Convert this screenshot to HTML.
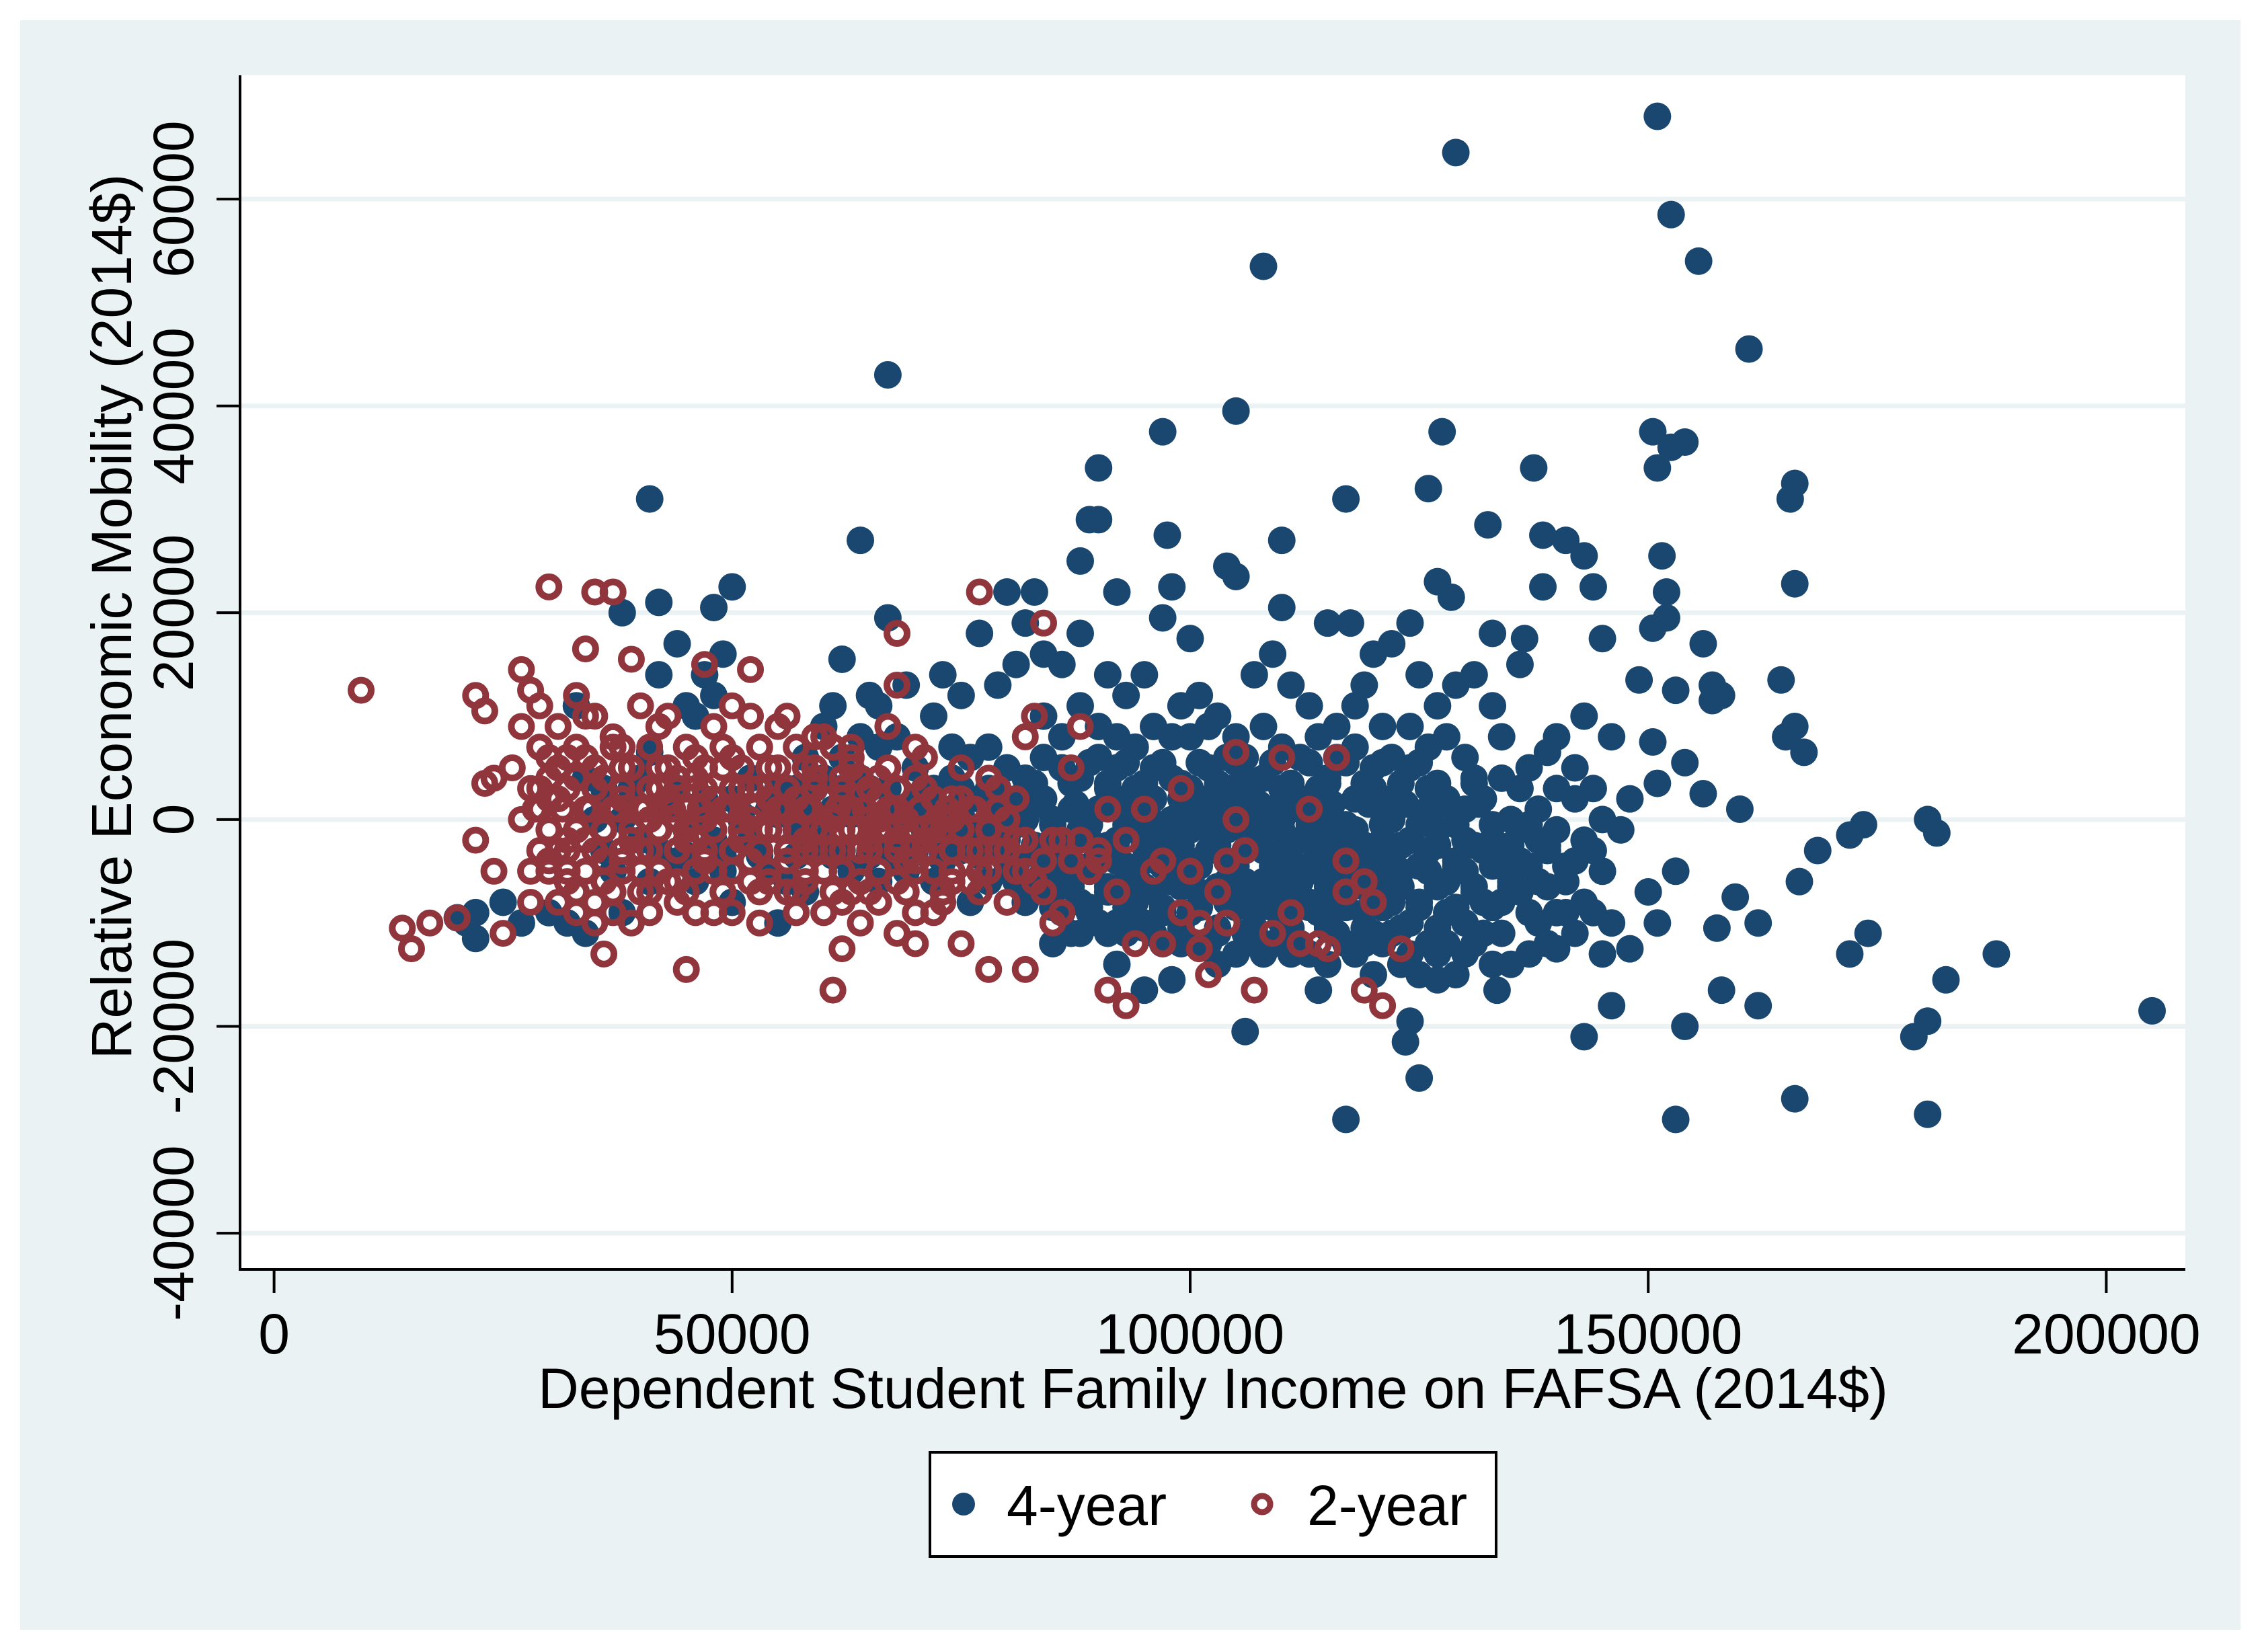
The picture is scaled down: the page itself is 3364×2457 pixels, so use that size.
<!DOCTYPE html>
<html><head><meta charset="utf-8">
<style>
html,body{margin:0;padding:0;background:#fff;}
svg{display:block;font-family:"Liberation Sans",Arial,sans-serif;}
</style></head>
<body>
<svg id="chart" width="3364" height="2457" viewBox="0 0 3364 2457" xmlns="http://www.w3.org/2000/svg">
<rect x="0" y="0" width="3364" height="2457" fill="#ffffff"/>
<rect x="30" y="30" width="3302" height="2394" fill="#eaf2f3"/>
<rect x="357" y="112" width="2893" height="1776" fill="#ffffff"/>
<g id="grid"></g>
<g id="pts4"></g>
<g id="pts2"></g>
<g id="axes"></g>
<text x="1804" y="2094" font-size="84" text-anchor="middle">Dependent Student Family Income on FAFSA (2014$)</text>
<text transform="translate(195,917) rotate(-90)" font-size="84" text-anchor="middle">Relative Economic Mobility (2014$)</text>
<g>
<rect x="1383" y="2160" width="842" height="155" fill="#ffffff" stroke="#000" stroke-width="4"/>
<circle cx="1433" cy="2237" r="17" fill="#1a476f"/>
<text x="1497" y="2268" font-size="84">4-year</text>
<circle cx="1877" cy="2237" r="12" fill="none" stroke="#90353b" stroke-width="9"/>
<text x="1944" y="2268" font-size="84">2-year</text>
</g>
</svg>
<script>
const xTicks = [0, 50000, 100000, 150000, 200000];
const yTicks = [-40000, -20000, 0, 20000, 40000, 60000];
// values in thousands of 2014$: [income, mobility]
const fourYear = [
[151,68],[129,64.5],[152.5,58.5],[155.5,54],[108,53.5],[161,45.5],[67,43],[105,39.5],[97,37.5],[127.5,37.5],[150.5,37.5],[154,36.5],[152.5,36],[90,34],[137.5,34],[151,34],[166,32.5],[165.5,31],[41,31],[117,31],[126,32],[89,29],[90,29],[132.5,28.5],[97.5,27.5],[110,27],[64,27],[138.5,27.5],[141,27],[143,25.5],[151.5,25.5],[104,24.5],[88,25],[105,23.5],[48,20.5],[50,22.5],[98,22.5],[138.5,22.5],[144,22.5],[152,22],[166,22.8],[127,23],[83,22],[80,22],[92,22],[97,19.5],[110,20.5],[115,19],[117.5,19],[124,19],[128.5,21.5],[152,19.5],[156,17],[136.5,17.5],[133,18],[145,17.5],[42,21],[38,20],[67,19.5],[82,19],[100,17.5],[77,18],[44,17],[62,15.5],[150.5,18.5],[149,13.5],[157,13],[158,12],[153,12.5],[164.5,13.5],[167,6.5],[166,9],[165,8],[157,11.5],[150.5,7.5],[154,5.5],[160,1],[156,2.5],[151,3.5],[168.5,-3],[173.5,-0.5],[172,-1.5],[180.5,0],[181.5,-1.3],[166.5,-6],[159.5,-7.5],[162,-10],[174,-11],[172,-13],[157.5,-10.5],[188,-13],[182.5,-15.5],[158,-16.5],[162,-18],[154,-20],[180.5,-19.5],[179,-21],[143,-21],[146,-18],[205,-18.5],[125,-25],[106,-20.5],[123.5,-21.5],[124,-19.5],[117,-29],[153,-29],[166,-27],[180.5,-28.5],[133.5,-16.5],[127,-15.5],[114,-16.5],[98,-15.5],[103,-14],[95,-16.5],[92,-14],[85,-12],[120,-15],[130,-13],[140,-12.5],[148,-12.5],[145,-13],[151,-10],[153,-5],[150,-7],[147,-1],[144,3],[142,-4],[139,6.5],[137,5],[135,0],[131,4],[128,2],[126,-3],[124,5],[121,9],[118,7],[115,4],[112,1],[110,-3],[108,-6],[106,2],[104,-1],[102,5],[100,-4],[98,0],[96,-7],[94,3],[92,-2],[90,1],[88,4],[86,-3],[84,6],[82,0],[80,-5],[78,3],[76,-2],[74,7],[72,10],[70,2],[68,-4],[66,11],[64,8],[62,3],[60,-2],[58,6],[56,-6],[54,1],[52,4],[50,-8],[48,12],[46,10],[44,-4],[42,14],[40,-2],[38,-9],[36,3],[34,-11],[32,-10],[30,-9],[27,-10],[25,-8],[22,-11.5],[21,-10],[20,-9.5],[22,-9],[33,11],[45,11],[49,16],[47,14],[41,6.5],[55,-10],[58,-7],[57,3],[61,11],[65,12],[69,13],[73,14],[75,12],[79,13],[81,15],[84,16],[86,15],[88,18],[91,14],[93,12],[95,14],[99,11],[101,12],[103,10],[105,8],[107,14],[109,16],[111,13],[113,11],[116,9],[119,13],[120,16],[122,17],[125,14],[127,11],[129,13],[131,14],[133,11],[136,15],[140,8],[143,10],[146,8],[148,2],
[85,-2],[87,1],[89,-5],[91,3],[93,-6],[95,0],[97,-3],[99,2],[101,-7],[103,-2],[105,-5],[107,0],[109,-8],[111,-4],[113,-1],[115,-6],[117,-3],[119,-9],[121,-2],[123,-5],[125,-8],[127,-1],[129,-4],[131,-7],[133,-2],[135,-6],[137,-9],[139,-3],[141,-6],[143,-8],[145,-5],[86,-6],[88,-8],[90,-10],[92,-4],[94,-8],[96,-11],[98,-6],[100,-9],[102,-12],[104,-8],[106,-11],[108,-13],[110,-10],[112,-12],[114,-9],[116,-11],[118,-13],[120,-8],[122,-11],[124,-10],[126,-12],[128,-9],[130,-10],[132,-8],[134,-11],[136,-7],[138,-10],[84,2],[86,5],[88,-1],[90,6],[92,8],[94,-1],[96,5],[98,8],[100,3],[102,-1],[104,6],[106,-3],[108,4],[110,7],[112,-6],[114,3],[116,-1],[118,2],[120,5],[122,0],[124,-2],[126,7],[128,-6],[130,1],[132,-3],[134,4],[136,-4],[138,1],[140,-1],[142,2],[144,-3],[100,-1],[101,1],[102,-3],[103,0],[104,-4],[105,1],[106,-6],[107,-2],[108,-1],[109,-4],[110,0],[111,-7],[112,-2],[113,-5],[114,-3],[115,1],[116,-4],[117,-7],[118,-1],[119,-5],[120,-3],[121,-6],[105,-8],[107,-9],[109,-7],[111,-9],[113,-8],[115,-10],[99,-5],[97,-9],[95,-4],[93,-9],[91,-7],[89,-2],[87,-4],[85,-7],[83,-3],[81,-6],[79,0],[77,-1],[75,-3],[73,-4],[71,-1],[69,-5],[67,-3],[65,-2],[63,-5],[61,1],[59,-3],[57,-1],[55,2],[53,-3],[51,0],[49,-5],[47,2],[45,-1],[43,1],[41,-6],[39,3],[37,-5],[35,0],
[96,2],[98,-2],[100,0],[102,2],[104,-6],[106,-1],[108,-3],[110,-5],[112,-8],[114,-5],[116,-8],[118,-5],[120,-11],[122,-8],[124,-13],[126,-5],[128,-12],[130,-5],[132,-11],[134,-8],[136,-1],[138,-6],[140,-9],[142,-11],[144,-9],[146,-10],[94,-5],[92,-10],[90,-4],[88,-11],[86,-9],[84,-5],[82,-8],[80,-2],[78,-6],[76,-8],[74,-1],[72,-6],[70,-3],[68,0],[66,-6],[64,1],[62,-3],[60,4],[58,0],[56,3],[54,-5],[52,-2],[50,2],[48,-2],[46,-6],[44,3],[42,-3],[40,4],[38,0],[36,-3],[34,4],[60,9],[62,6],[64,4],[66,7],[68,8],[70,5],[72,3],[74,4],[76,6],[78,7],[80,5],[82,4],[84,10],[86,8],[88,11],[90,9],[92,5],[94,7],[96,9],[98,4],[100,8],[102,9],[104,3],[106,6],[108,9],[110,3],[112,6],[114,8],[116,6],[118,11],[120,3],[122,6],[124,9],[126,3],[128,8],[130,6],[132,2],[134,8],[136,3],[138,-2],[140,3],[142,5],[145,0],[143,-2],[141,-9],[139,-12],[137,-13],[135,-14],[133,-14],[131,-12],[129,-15],[127,-13],[125,-15],[123,-14],[121,-12],[119,-12],[117,-12],[115,-14],[113,-13],[111,-13],[109,-12],[107,-12],[105,-13],[103,-11],[101,-12],[99,-12],[97,-12],[95,-10],[93,-11],[91,-11],[89,-9],[87,-11],[96,-2],[106,4],[110,-1],[114,-1],[118,-3],[122,-3],[126,1],[130,-2],[134,-4],[121,2],[117,-2],[113,2],[109,1],[105,3],[101,-4],[97,5],[93,2],[89,0],[85,0],[81,2],[77,2],[73,1],[69,1],[65,3]
];
// dense core of 4-year cloud, read row by row: [mobility, incomes...]
const fourYearCore = [
[1.5,[79,83.5,87.5,91.5,95.5,99.5,103.5,107.5,111.5,115.5,119.5,123.5,127.5,131.5]],
[-0.5,[81,85,89,93,97,101,105,109,113,117,121,125,129,133,137]],
[-2.5,[79,83,87,91,95,99,103,107,111,115,119,123,127,131,135,139]],
[-4.5,[81,85,89,93,97,101,105,109,113,117,121,125,129,133,137,141]],
[-6.5,[83,87,91,95,99,103,107,111,115,119,123,127,131,135,139]],
[-8.5,[85,89,93,97,101,105,109,113,117,121,125,129,133]],
[-10.5,[91,95,99,103,107,111,115,119,123,127]],
[3.5,[83,87,91,95,99,103,107,111,115,119,123,127,131]],
[5.5,[89,93,97,101,105,109,113,117,121,125]],
[-3.5,[45,49,53,57,61,65,69,73,77]],
[0.5,[47,51,55,59,63,67,71,75]],
[3,[55,59,63,67,71,75,79]]
];
const twoYear = [
[9.5,12.5],[14,-10.5],[15,-12.5],[17,-10],[20,-9.5],[22,-2],[22,12],[23,10.5],[24,-5],[24,4],[23,3.5],[25,-11],[27,14.5],[28,12.5],[30,22.5],[35,22],[37,22],[34,16.5],[39,15.5],[47,15],[52,14.5],[36,-13],[45,-14.5],[61,-16.5],[62,-12.5],[68,-11],[70,-12],[75,-12],[78,-14.5],[82,-14.5],[77,22],[68,18],[84,19],[91,-16.5],[93,-18],[97,-12],[101,-12.5],[102,-15],[104,-10],[107,-16.5],[111,-9],[114,-12],[115,-12.5],[119,-16.5],[121,-18],[123,-12.5],[119,-6],[116,6],[113,1],[110,6],[105,6.5],[105,0],[104,-4],[99,3],[100,-5],[96,-5],[94,-12],[95,1],[92,-7],[90,-3],[88,9],[87,5],[86,-2],[85,-10],[83,10],[82,8],[81,2],[80,-8],[79,-3],[78,4],[76,-6],[74,0],[72,-9],[70,7],[68,13],[66,-5],[64,4],[62,-8],[60,8],[58,-2],[56,10],[54,-6],[52,3],[50,11],[48,-9],[46,6],[44,-3],[42,9],[40,-7],[38,5],[36,-1],[34,10],[32,-6],[30,2],[28,-8],[26,5],[29,7],[31,-3],[33,4],[35,-8],[37,8],[39,-2],[41,3],[43,-6],[45,1],[47,-4],[49,5],[51,-2],[53,7],[55,-1],[57,-7],[59,4],[61,-3],[63,6],[65,-2],[67,1],[69,-4],[71,3],[73,-1],[75,2],[77,-5],[79,1],[81,-2],[83,-6],[27,0],[28,3],[30,-4],[32,6],[34,-2],[36,4],[38,-4],[40,1],[42,-1],[44,4],[46,-2],[48,2],[50,-3],[52,0],[54,2],[56,-4],[58,1],[60,-1],[62,2],[64,-3],[66,0],[68,-2],[70,-1],[72,2],[74,-3],[76,1],[78,-1],[80,0],[33,-9],[35,-10],[37,-9],[39,-10],[41,-9],[46,-9],[50,-9],[53,-10],[57,-9],[60,-9],[64,-10],[66,-8],[70,-9],[73,-8],[27,9],[29,11],[31,9],[33,12],[35,10],[40,11],[43,10],[48,9],[52,10],[55,9],[59,8],[63,7],[67,9],[71,6],[75,5],[79,3],[28,-5],[30,6],[31,-8],[44,-8],[49,-7],[58,-6],[63,-7],[69,-7],[74,-6],[81,-5],[84,-7],[86,-9],[89,-5],[91,1],[93,-2],[97,-4],[99,-9],[101,-10],[103,-7],[106,-3],[109,-11],[112,-12],[117,-4],[117,-7],[120,-8],
[29,1],[31,2],[33,-1],[35,3],[37,1],[39,-1],[41,0],[43,2],[45,-2],[47,0],[49,1],[51,3],[53,-1],[55,1],[57,2],[59,-1],[61,0],[63,1],[65,0],[67,-1],[69,0],[71,-2],[73,0],[32,-2],[34,1],[36,-4],[38,2],[40,-3],[42,3],[44,0],[46,3],[48,-1],[50,1],[52,-4],[54,-1],[56,1],[58,-3],[60,2],[62,-1],[64,-1],[66,2],[68,1],[70,-4],[72,-2],[74,2],[76,-3],[30,4],[34,6],[38,7],[42,5],[46,4],[50,6],[54,5],[58,5],[62,4],[66,4],[70,4],[32,-5],[36,-6],[40,-5],[44,-6],[48,-5],[52,-6],[56,-7],[60,-5],[64,-6],[68,-6],[72,-5]
];
// dense core of 2-year cloud, read row by row: [mobility, incomes...]
const twoYearCore = [
[1,[28.5,31.5,34.5,37.5,40.5,43.5,46.5,49.5,52.5,55.5,58.5,61.5,64.5,67.5,70.5,73.5,76.5]],
[-1,[30,33,36,39,42,45,48,51,54,57,60,63,66,69,72,75,78]],
[3,[29,32,35,38,41,44,47,50,53,56,59,62,65,68,71]],
[-3,[29,32,35,38,41,44,47,50,53,56,59,62,65,68,71,74,77,80]],
[5,[31,35,39,43,47,51,55,59,63,67]],
[-5,[30,34,38,42,46,50,54,58,62,66,70,74,78,82]],
[-7,[33,37,41,45,49,53,57,61,65,69,73,77]],
[7,[29,33,37,41,45,49,53,57,61]],
[-2,[82,85,88]],
[-4,[84,87,90]]
];
</script>
<script>
const NS = 'http://www.w3.org/2000/svg';
const X0 = 407.6, XK = 13.624 / 1000;
const Y0 = 1218.9, YK = 15.38 / 1000;
function xScale(v){ return X0 + v * XK; }
function yScale(v){ return Y0 - v * YK; }
function mk(tag, attrs, parent){
  const e = document.createElementNS(NS, tag);
  for (const k in attrs) e.setAttribute(k, attrs[k]);
  parent.appendChild(e);
  return e;
}
const grid = document.getElementById('grid');
const axes = document.getElementById('axes');
const g4 = document.getElementById('pts4');
const g2 = document.getElementById('pts2');

yTicks.forEach(function(t){
  const y = yScale(t);
  const gl = mk('line', {x1:357, x2:3250, y1:y, y2:y, stroke:'#eaf2f3', 'stroke-width':7}, grid);
  
  
  const tk = mk('line', {x1:322, x2:357, y1:y, y2:y, stroke:'#000', 'stroke-width':4}, axes);
  
  
  const tx = mk('text', {transform:'translate(287,' + y + ') rotate(-90)', 'font-size':84, 'text-anchor':'middle'}, axes);
  tx.textContent = String(t);
  
  
});
xTicks.forEach(function(t){
  const x = xScale(t);
  const tk = mk('line', {x1:x, x2:x, y1:1888, y2:1923, stroke:'#000', 'stroke-width':4}, axes);
  
  
  const tx = mk('text', {x:x, y:2013, 'font-size':84, 'text-anchor':'middle'}, axes);
  tx.textContent = String(t);
  
  
});
const ax = mk('path', {d:'M357,112 V1888 H3250', fill:'none', stroke:'#000', 'stroke-width':4}, axes);



function dot4(xv, yv){
  const c = mk('circle', {cx:xScale(xv*1000), cy:yScale(yv*1000), r:20.5, fill:'#1a476f'}, g4);
  
  
}
function dot2(xv, yv){
  const c = mk('circle', {cx:xScale(xv*1000), cy:yScale(yv*1000), r:15, fill:'none', stroke:'#90353b', 'stroke-width':10}, g2);
  
  
}
fourYear.forEach(function(p){ dot4(p[0], p[1]); });
fourYearCore.forEach(function(r){ r[1].forEach(function(xv){ dot4(xv, r[0]); }); });
twoYear.forEach(function(p){ dot2(p[0], p[1]); });
twoYearCore.forEach(function(r){ r[1].forEach(function(xv){ dot2(xv, r[0]); }); });
</script>
</body></html>
